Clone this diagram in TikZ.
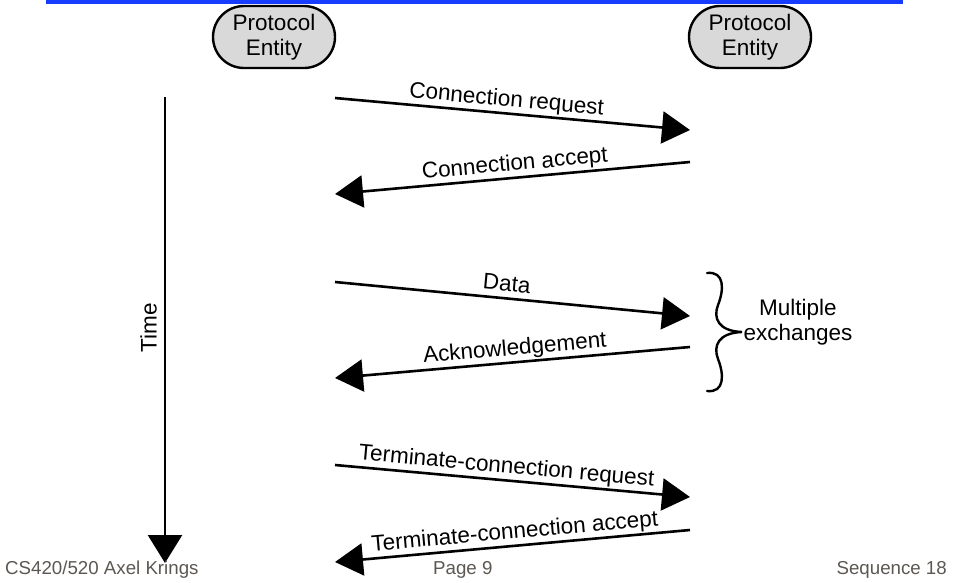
\documentclass[tikz,border=0pt]{standalone}
\usepackage{fontspec}
\setmainfont{Liberation Sans}
\usetikzlibrary{arrows.meta}
\definecolor{barblue}{RGB}{22,60,255}
\definecolor{entgray}{RGB}{217,217,217}
\definecolor{footgray}{RGB}{92,87,82}
\begin{document}
\begin{tikzpicture}[x=1pt,y=-1pt,
  bigfont/.style={font=\fontsize{22.5}{24.5}\selectfont},
  entity/.style={bigfont, draw, line width=2.4pt, fill=entgray, rounded corners=31pt,
    minimum width=122pt, minimum height=62pt, inner sep=0pt, align=center},
  msg/.style={line width=2.6pt, -{Triangle[length=28pt,width=32pt]}},
  msglabel/.style={bigfont, sloped, above=6pt, inner sep=0pt, text depth=0pt},
  foot/.style={font=\fontsize{18.7}{20}\selectfont, text=footgray, inner sep=0pt}]
\useasboundingbox (0,0) rectangle (954,582);

% title rule
\fill[barblue] (46,0) rectangle (903,3.5);

% the two communicating entities
\node[entity] (pe1) at (274,37) {Protocol\\Entity};
\node[entity] (pe2) at (750,37) {Protocol\\Entity};

% time axis
\coordinate (t0) at (165,97);
\coordinate (t1) at (165,563);
\draw[line width=2.6pt, -{Triangle[length=28pt,width=34pt]}] (t0) -- (t1);
\node[bigfont, rotate=90] (time) at (148.5,328) {Time};

% message end points
\coordinate (crS) at (335,98);   \coordinate (crE) at (690,130);
\coordinate (caS) at (690,162);  \coordinate (caE) at (335,194);
\coordinate (dS)  at (335,282);  \coordinate (dE)  at (690,316);
\coordinate (akS) at (690,347);  \coordinate (akE) at (335,378);
\coordinate (trS) at (335,465);  \coordinate (trE) at (690,497);
\coordinate (taS) at (690,530);  \coordinate (taE) at (335,562);

% messages
\draw[msg] (crS) -- node[msglabel, pos=0.48] (lcr) {Connection request} (crE);
\draw[msg] (caS) -- node[msglabel, pos=0.49] (lca) {Connection accept} (caE);
\draw[msg] (dS) -- node[msglabel, pos=0.48] (ld) {Data} (dE);
\draw[msg] (akS) -- node[msglabel, pos=0.49] (lak) {Acknowledgement} (akE);
\draw[msg] (trS) -- node[msglabel, pos=0.48] (ltr) {Terminate-connection request} (trE);
\draw[msg] (taS) -- node[msglabel, pos=0.49] (lta) {Terminate-connection accept} (taE);

% brace grouping the data exchange
\draw[line width=2.4pt, line cap=round]
  (707,273) .. controls (725,271) and (724,290) .. (718,305)
            .. controls (713,318) and (718,331) .. (742,332)
            .. controls (718,333) and (713,346) .. (718,359)
            .. controls (724,374) and (725,393) .. (707,391);
\node[bigfont, align=center, inner sep=0pt] (multi) at (798,322) {Multiple\\exchanges};

% footer
\node[foot, anchor=base west] (f1) at (5,574) {CS420/520 Axel Krings};
\node[foot, anchor=base west] (f2) at (433,574) {Page 9};
\node[foot, anchor=base east] (f3) at (947,574) {Sequence 18};
\end{tikzpicture}
\end{document}
